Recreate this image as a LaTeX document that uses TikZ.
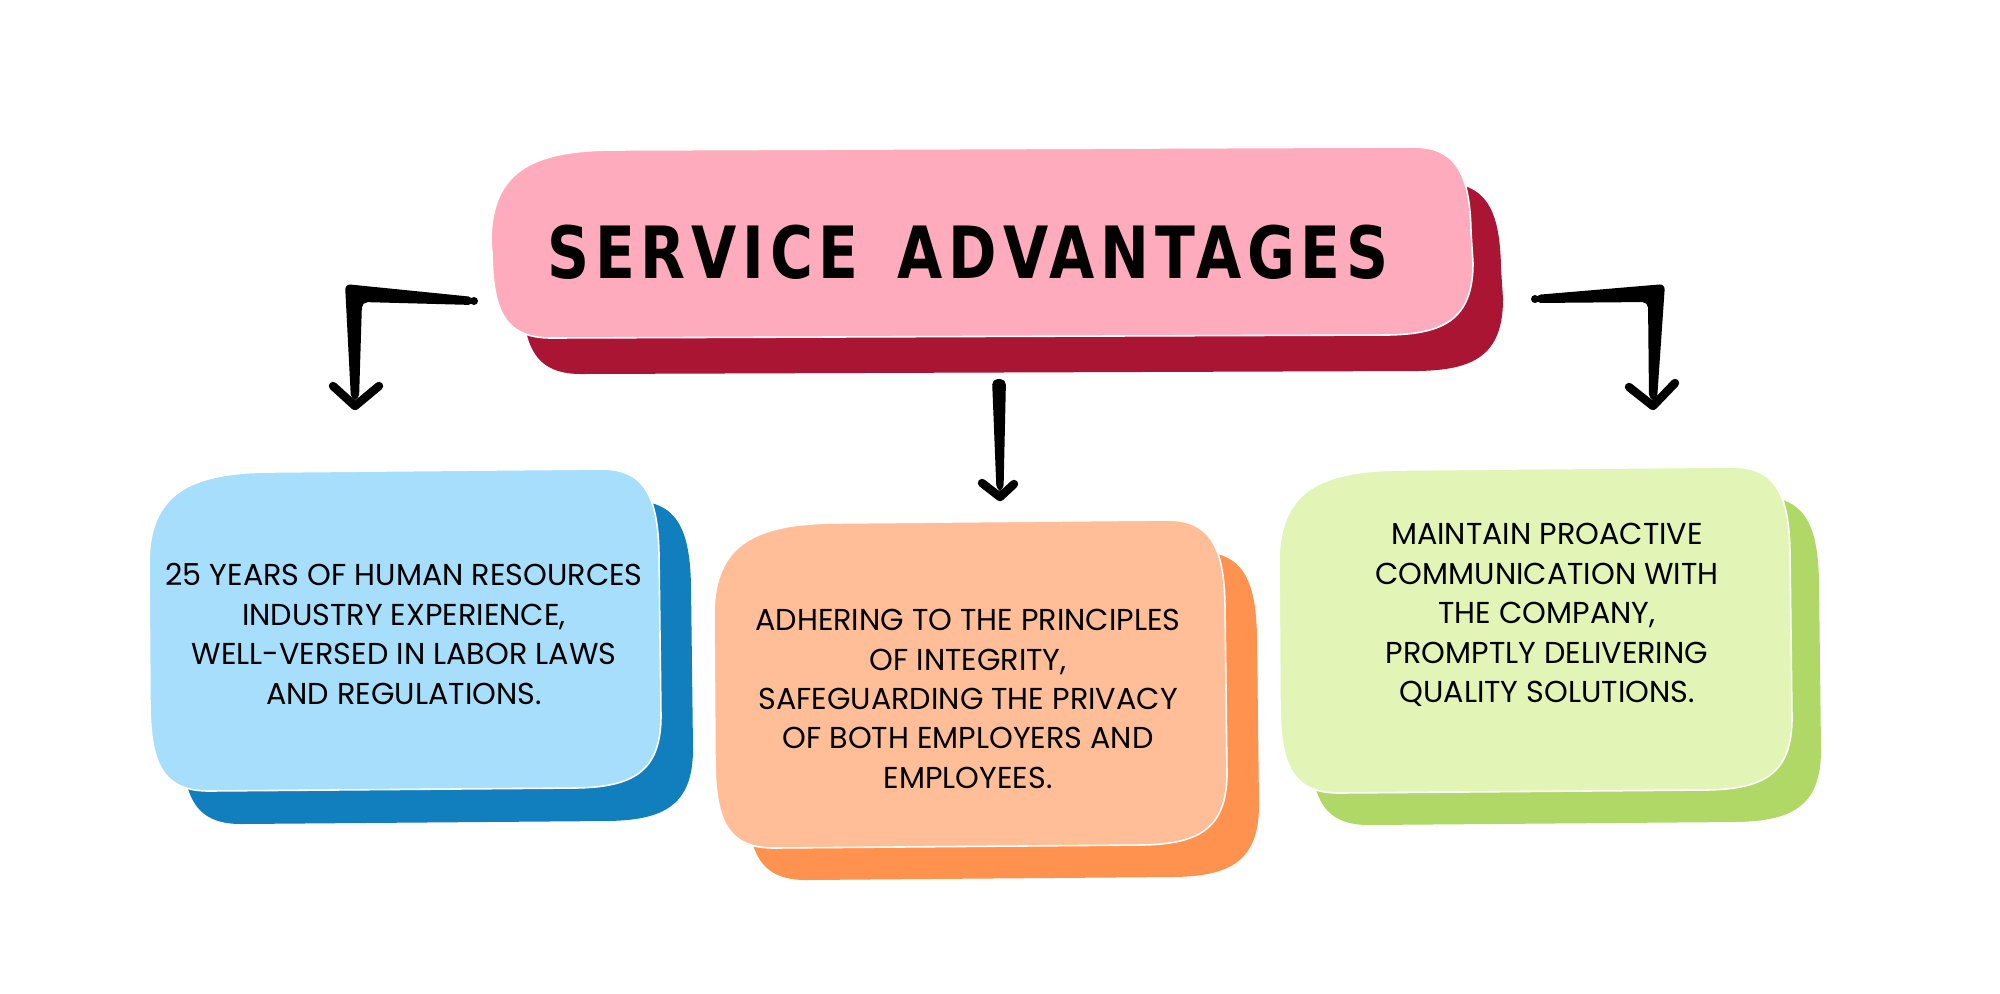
\documentclass[tikz,border=0pt]{standalone}
\usepackage{fontspec}
\setmainfont{Poppins}
\newfontfamily\titlefont[LetterSpace=9]{DejaVu Sans Condensed}
\usetikzlibrary{positioning,calc}
\definecolor{pinkfront}{RGB}{255,171,190}
\definecolor{pinkshade}{RGB}{170,21,52}
\definecolor{bluefront}{RGB}{166,222,252}
\definecolor{blueshade}{RGB}{17,126,190}
\definecolor{orangefront}{RGB}{255,190,152}
\definecolor{orangeshade}{RGB}{255,146,79}
\definecolor{greenfront}{RGB}{226,245,183}
\definecolor{greenshade}{RGB}{176,216,102}
\tikzset{
  front/.style={draw=white,line width=0.45pt},
  shaft/.style={fill=black,rounded corners=1.6pt},
  barb/.style={draw=black,line width=2.4pt,line cap=round,line join=round},
  bodytxt/.style={font=\fontsize{8.6}{11.2}\selectfont,align=center,inner sep=0pt},
  headtxt/.style={font=\titlefont\bfseries\fontsize{20.5}{24}\selectfont,inner sep=0pt,xscale=0.9,transform shape},
}
% hand-drawn card: style, left, top, right, bottom (in px)
\newcommand{\blob}[5]{%
  \path[#1] ({#2},{#3+95})
    .. controls ({#2},{#3+25}) and ({#2+40},{#3+4}) .. ({#2+120},{#3+3})
    -- ({#4-60},{#3})
    .. controls ({#4-15},{#3}) and ({#4-3},{#3+30}) .. ({#4-2},{#3+85})
    -- ({#4},{#5-75})
    .. controls ({#4},{#5-18}) and ({#4-30},{#5-4}) .. ({#4-85},{#5-3})
    -- ({#2+60},{#5})
    .. controls ({#2+12},{#5}) and ({#2+2},{#5-30}) .. ({#2+1},{#5-85})
    -- cycle;}

\begin{document}
\begin{tikzpicture}[x=0.01cm,y=-0.01cm]
  \useasboundingbox[fill=white] (0,0) rectangle (2000,993);
  % shadows
  \blob{fill=pinkshade}{521}{183}{1503}{374}
  \blob{fill=blueshade}{181}{501}{693}{824}
  \blob{fill=orangeshade}{746}{552}{1259}{880}
  \blob{fill=greenshade}{1309}{497}{1821}{825}
  % cards
  \blob{front,fill=pinkfront}{491}{147}{1473}{338}
  \blob{front,fill=bluefront}{149}{469}{661}{791}
  \blob{front,fill=orangefront}{714}{520}{1227}{848}
  \blob{front,fill=greenfront}{1279}{467}{1792}{793}
  % texts
  \node[headtxt] (title) at (968,252) {SERVICE\hspace{0.6em}ADVANTAGES};
  \node[bodytxt] (years) at (404,634) {25 YEARS OF HUMAN RESOURCES\\INDUSTRY EXPERIENCE,\\WELL-VERSED IN LABOR LAWS\\AND REGULATIONS.};
  \node[bodytxt] (integ) at (968,699) {ADHERING TO THE PRINCIPLES\\OF INTEGRITY,\\SAFEGUARDING THE PRIVACY\\OF BOTH EMPLOYERS AND\\EMPLOYEES.};
  \node[bodytxt] (comm) at (1547,615) {MAINTAIN PROACTIVE\\COMMUNICATION WITH\\THE COMPANY,\\PROMPTLY DELIVERING\\QUALITY SOLUTIONS.};
  % arrow ends
  \coordinate (lfrom) at (474,301);
  \coordinate (lbend) at (353,293);
  \coordinate (lto) at (355,406);
  \coordinate (mfrom) at (999,384);
  \coordinate (mto) at (1000,497);
  \coordinate (rfrom) at (1535,299);
  \coordinate (rbend) at (1657,293);
  \coordinate (rto) at (1653,406);
  % arrows
  \path[shaft] ($(lfrom)+(0,-4)$) -- ($(lbend)+(-8,-9)$) -- ($(lto)+(-4,-6)$)
    -- ($(lto)+(4,-6)$) -- ($(lbend)+(9,9)$) -- ($(lfrom)+(0,4)$) -- cycle;
  \fill (lfrom) circle (4);
  \draw[barb] (333,386) -- (lto) -- (379,386);
  \path[shaft] ($(mfrom)+(-7,-5)$) -- ($(mfrom)+(7,-5)$) -- ($(mto)+(3.5,-6)$)
    -- ($(mto)+(-3.5,-6)$) -- cycle;
  \draw[barb] (982,483) -- (mto) -- (1014,484);
  \path[shaft] ($(rfrom)+(0,-4)$) -- ($(rbend)+(8,-9)$) -- ($(rto)+(4,-6)$)
    -- ($(rto)+(-4,-6)$) -- ($(rbend)+(-9,9)$) -- ($(rfrom)+(0,4)$) -- cycle;
  \fill (rfrom) circle (4);
  \draw[barb] (1629,387) -- (rto) -- (1675,383);
\end{tikzpicture}
\end{document}
